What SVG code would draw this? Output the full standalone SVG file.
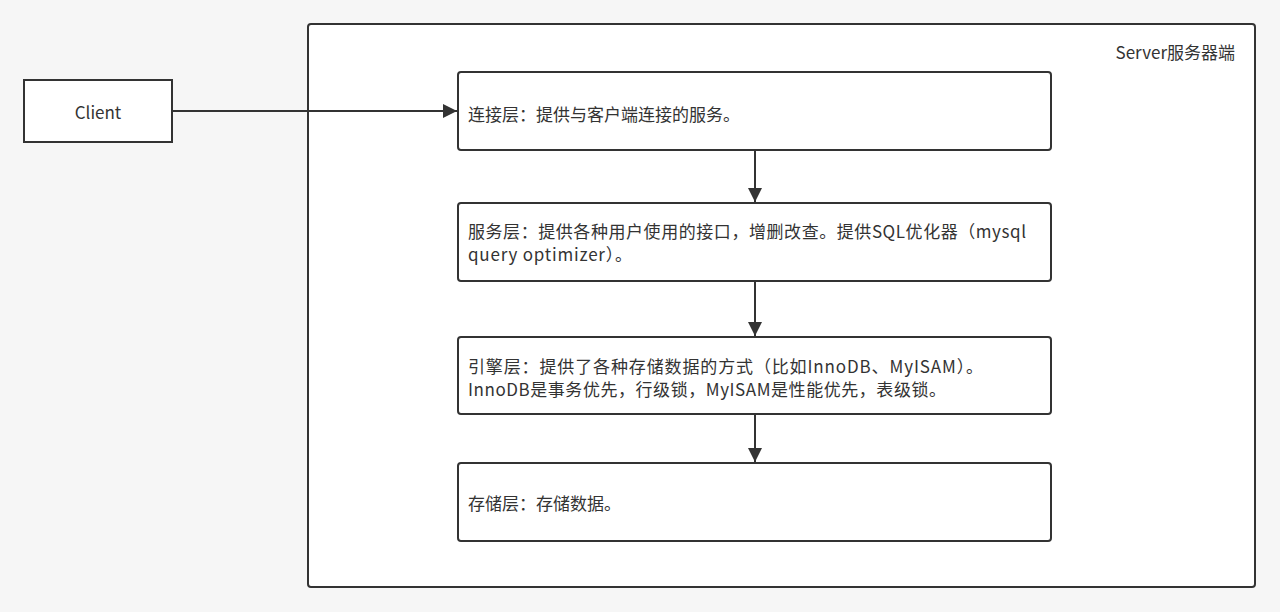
<svg xmlns="http://www.w3.org/2000/svg" width="1280" height="612" viewBox="0 0 1280 612">
<style>
.box{fill:#fff;stroke:#333;stroke-width:2}
.t{font-family:"Noto Sans CJK SC","Liberation Sans",sans-serif;font-size:17px;fill:#333}
.c{stroke:#333;stroke-width:2;fill:none}
</style>
<defs>
<marker id="arr" viewBox="0 0 10 10" refX="10" refY="5" markerWidth="14" markerHeight="14" markerUnits="userSpaceOnUse" orient="auto">
<path d="M0,0 L10,5 L0,10 Z" fill="#333"/>
</marker>
</defs>
<rect width="1280" height="612" fill="#f6f6f6"/>
<g id="server">
<rect class="box" x="308" y="24" width="947" height="563" rx="3"/>
<text class="t" x="1235" y="59" text-anchor="end">Server服务器端</text>
</g>
<g id="client">
<rect class="box" x="24" y="80" width="148" height="62"/>
<text class="t" x="98" y="119" text-anchor="middle">Client</text>
</g>
<g id="conn-layer">
<rect class="box" x="458" y="72" width="593" height="78" rx="3"/>
<text class="t" x="468" y="121">连接层：提供与客户端连接的服务。</text>
</g>
<g id="service-layer">
<rect class="box" x="458" y="203" width="593" height="78" rx="3"/>
<text class="t" x="468" y="238" textLength="558" lengthAdjust="spacing">服务层：提供各种用户使用的接口，增删改查。提供SQL优化器（mysql</text>
<text class="t" x="468" y="261" textLength="164" lengthAdjust="spacing">query optimizer）。</text>
</g>
<g id="engine-layer">
<rect class="box" x="458" y="337" width="593" height="77" rx="3"/>
<text class="t" x="468" y="373" textLength="515" lengthAdjust="spacing">引擎层：提供了各种存储数据的方式（比如InnoDB、MyISAM）。</text>
<text class="t" x="468" y="396" textLength="478" lengthAdjust="spacing">InnoDB是事务优先，行级锁，MyISAM是性能优先，表级锁。</text>
</g>
<g id="storage-layer">
<rect class="box" x="458" y="463" width="593" height="78" rx="3"/>
<text class="t" x="468" y="510">存储层：存储数据。</text>
</g>
<g id="connectors">
<line class="c" x1="172" y1="111" x2="457" y2="111" marker-end="url(#arr)"/>
<line class="c" x1="755" y1="150" x2="755" y2="202" marker-end="url(#arr)"/>
<line class="c" x1="755" y1="281" x2="755" y2="336" marker-end="url(#arr)"/>
<line class="c" x1="755" y1="414" x2="755" y2="462" marker-end="url(#arr)"/>
</g>
</svg>
